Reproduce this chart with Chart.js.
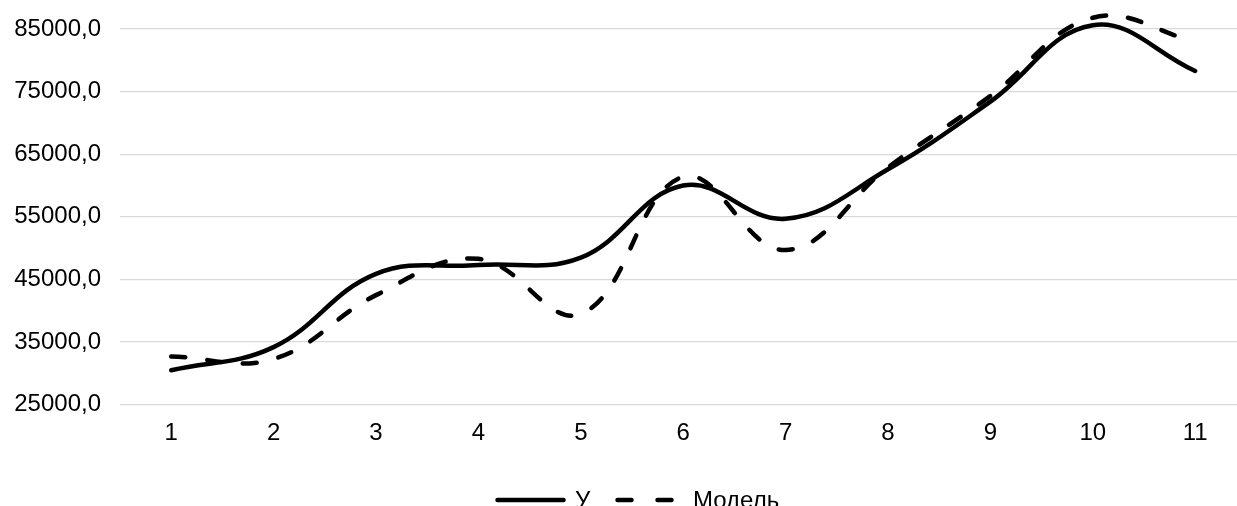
<!DOCTYPE html>
<html>
<head>
<meta charset="utf-8">
<title>У и Модель</title>
<script src="https://cdn.jsdelivr.net/npm/chart.js@4.4.1/dist/chart.umd.min.js"></script>
<style>
  html, body { margin: 0; padding: 0; overflow: hidden; background: #fff; }
  /* the original is a crop of a slightly wider chart, so the box is wider than the window */
  #wrap { width: 1274px; height: 506px; position: relative; }
  .legend-part { position: absolute; font-family: "Liberation Sans", Arial, sans-serif; font-size: 24px; line-height: 24px; color: #000; white-space: nowrap; }
  .legend-line { position: absolute; top: 495px; }
</style>
</head>
<body>
<div id="wrap">
  <canvas id="lineChart"></canvas>
  <div id="legend"></div>
</div>
<script>
// Data
const categories = ['1', '2', '3', '4', '5', '6', '7', '8', '9', '10', '11'];
const actualValues = [30500, 34200, 45900, 47300, 48500, 60000, 54700, 62600, 73400, 85600, 78300];
const modelValues = [32700, 32300, 42500, 48300, 39500, 61400, 49700, 62900, 74300, 86800, 83000];
const yTicks = [25000, 35000, 45000, 55000, 65000, 75000, 85000];

const seriesNames = ['У', 'Модель'];
const seriesDash = [[], [14, 22]];

const fontFamily = '"Liberation Sans", Arial, sans-serif';
const fontSize = 24;
const lineWidth = 4.5;

// Format numbers like "85000,0"
function formatTick(value) {
  return value.toFixed(1).replace('.', ',');
}

// Legend built as html, the built-in one drops the dash on line markers
function renderLegend() {
  const legend = document.getElementById('legend');
  const lineLeft = [495, 615];
  const textLeft = [575, 693];
  legend.innerHTML = '';

  seriesNames.forEach((name, i) => {
    const svgNS = 'http://www.w3.org/2000/svg';
    const svg = document.createElementNS(svgNS, 'svg');
    svg.setAttribute('width', '71');
    svg.setAttribute('height', '10');
    svg.setAttribute('class', 'legend-line');
    svg.style.left = lineLeft[i] + 'px';
    const line = document.createElementNS(svgNS, 'line');
    line.setAttribute('x1', '2.5');
    line.setAttribute('x2', '68.5');
    line.setAttribute('y1', '5');
    line.setAttribute('y2', '5');
    line.setAttribute('stroke', '#000');
    line.setAttribute('stroke-width', lineWidth);
    line.setAttribute('stroke-linecap', 'round');
    if (seriesDash[i].length) {
      line.setAttribute('stroke-dasharray', '14 26');
    }
    svg.appendChild(line);
    legend.appendChild(svg);

    const label = document.createElement('div');
    label.className = 'legend-part';
    label.style.left = textLeft[i] + 'px';
    label.style.top = '488px';
    label.textContent = name;
    legend.appendChild(label);
  });
}

const ctx = document.getElementById('lineChart').getContext('2d');

new Chart(ctx, {
  type: 'line',
  data: {
    labels: categories,
    datasets: seriesNames.map((name, i) => ({
      label: name,
      data: i === 0 ? actualValues : modelValues,
      borderColor: '#000',
      backgroundColor: '#000',
      borderWidth: lineWidth,
      borderDash: seriesDash[i],
      borderCapStyle: 'round',
      borderJoinStyle: 'round',
      pointRadius: 0,
      tension: 0.4,
      clip: false,
    })),
  },
  options: {
    responsive: true,
    maintainAspectRatio: false,
    animation: false,
    layout: {
      padding: { top: 29, left: 0, right: 27.6, bottom: 0 },
    },
    plugins: {
      tooltip: { enabled: false },
      legend: { display: false },
    },
    scales: {
      x: {
        offset: true,
        grid: { display: false, drawTicks: false },
        border: { display: false },
        ticks: {
          padding: 13.9,
          color: '#000',
          font: { family: fontFamily, size: fontSize },
          maxRotation: 0,
        },
        // plot bottom at y = 404.7
        afterFit: (scale) => { scale.height = 506 - 404.7; },
      },
      y: {
        min: yTicks[0],
        max: yTicks[yTicks.length - 1],
        grid: { color: '#d9d9d9', lineWidth: 1.3, drawTicks: false },
        border: { display: false },
        afterBuildTicks: (scale) => {
          scale.ticks = yTicks.map((v) => ({ value: v }));
        },
        ticks: {
          padding: 19,
          color: '#000',
          font: { family: fontFamily, size: fontSize },
          callback: (value) => formatTick(value),
        },
        afterFit: (scale) => {
          scale.width = 120;
          // tick padding would otherwise push the plot top down
          scale.paddingTop = 0;
          scale.paddingBottom = 0;
        },
      },
    },
  },
});

renderLegend();
</script>
</body>
</html>
